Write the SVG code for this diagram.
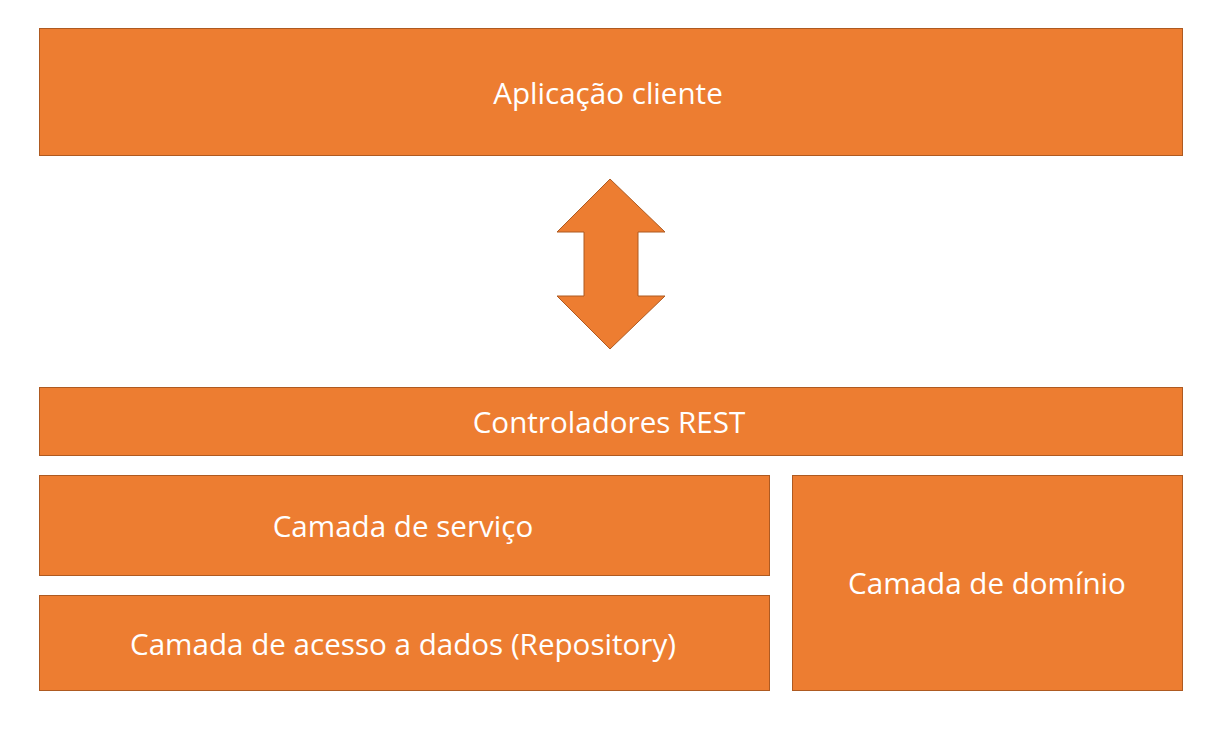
<svg xmlns="http://www.w3.org/2000/svg" width="1216" height="733" viewBox="0 0 1216 733">
<style>
.box{fill:#ED7D31;stroke:#AE5A21;stroke-width:1}
.t{font-family:"Open Sans","Liberation Sans",sans-serif;font-size:29.6px;fill:#FFFFFF;text-anchor:middle;dominant-baseline:central}
</style>
<rect width="1216" height="733" fill="#FFFFFF"/>
<g id="cliente"><rect class="box" x="39.5" y="28.5" width="1143" height="127"/><text class="t" x="608" y="92">Aplicação cliente</text></g>
<g id="connectors"><polygon class="box" points="610,179 665,232 638,232 638,296 665,296 610,349 557,296 584,296 584,232 557,232"/></g>
<g id="rest"><rect class="box" x="39.5" y="387.5" width="1143" height="68"/><text class="t" x="609" y="421">Controladores REST</text></g>
<g id="servico"><rect class="box" x="39.5" y="475.5" width="730" height="100"/><text class="t" x="403" y="525">Camada de serviço</text></g>
<g id="repository"><rect class="box" x="39.5" y="595.5" width="730" height="95"/><text class="t" x="403" y="643">Camada de acesso a dados (Repository)</text></g>
<g id="dominio"><rect class="box" x="792.5" y="475.5" width="390" height="215"/><text class="t" x="987" y="582">Camada de domínio</text></g>
</svg>
